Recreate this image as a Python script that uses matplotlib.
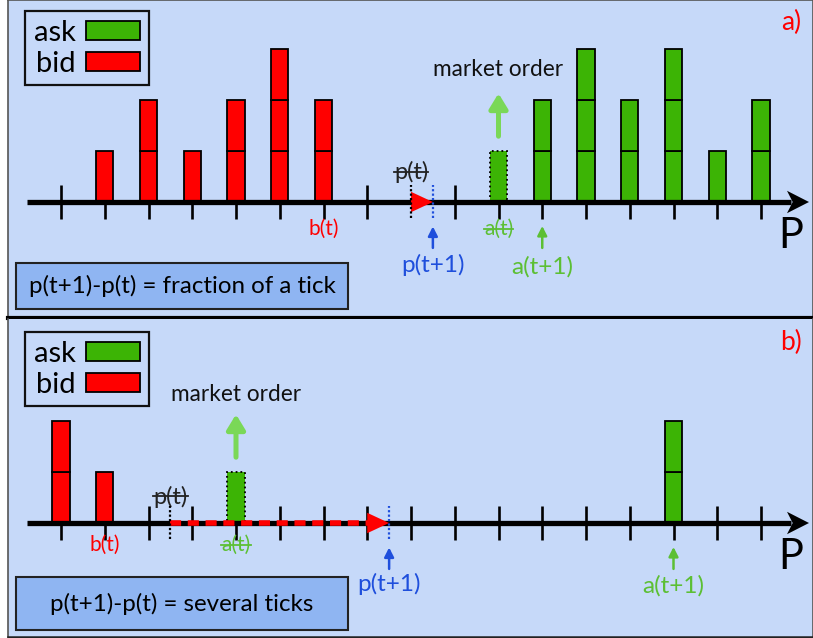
import matplotlib
matplotlib.use("Agg")
import matplotlib.pyplot as plt
from matplotlib.patches import Rectangle, Patch, Polygon

plt.rcParams['font.family'] = ['Lato', 'DejaVu Sans']

# ---------------- data ----------------
price_levels = list(range(17))

# panel a)
bid_levels_a = [1, 2, 3, 4, 5, 6]
bid_vol_a = [1, 2, 1, 2, 3, 2]
ask_levels_a = [11, 12, 13, 14, 15, 16]
ask_vol_a = [2, 3, 2, 3, 1, 2]
exec_level_a = 10
exec_vol_a = 1
hidden_ticks_a = [8]

# panel b)
bid_levels_b = [0, 1]
bid_vol_b = [2, 1]
ask_levels_b = [14]
ask_vol_b = [2]
exec_level_b = 4
exec_vol_b = 1
hidden_ticks_b = []

panel_labels = ["a)", "b)"]
box_texts = ["p(t+1)-p(t) = fraction of a tick", "p(t+1)-p(t) = several ticks"]

# ---------------- style ----------------
BG = '#c6d9f9'
BOX = '#8fb5f2'
RED = '#ff0000'
GREEN = '#3cb405'
LGREEN = '#5cbf34'
MGREEN = '#7ad857'
BLUE = '#1f4fdc'
BARW = 0.39

W, H = 813, 638
fig = plt.figure(figsize=(W / 100, H / 100), dpi=100)
fig.patch.set_facecolor('white')

XL = ((8 - 61) / 43.75, (813 - 61) / 43.75)

ax_a = fig.add_axes([8 / W, (H - 318) / H, 805 / W, 318 / H])
ax_b = fig.add_axes([8 / W, 1 / H, 805 / W, 318 / H])
ax_a.set_ylim(-(318 - 202) / 51, 202 / 51)
ax_b.set_ylim(-(637 - 523) / 51, (523 - 319) / 51)

strike_texts = []


def draw_panel(ax, bid_lv, bid_v, ask_lv, ask_v, ex_lv, ex_v, hidden, plabel, btext, top_ylabel, lab_y, p1_y, is_b):
    ax.set_xlim(*XL)
    ax.set_facecolor(BG)
    ax.set_xticks([])
    ax.set_yticks([])
    for s in ax.spines.values():
        s.set_color('#555555')
        s.set_linewidth(1.2)
    # ticks
    for k in price_levels:
        if k in hidden:
            continue
        ax.plot([k, k], [-0.333, 0.333], color='black', lw=1.9, zorder=1, solid_capstyle='butt')
    # bars
    for lv, v, col in [(bid_lv, bid_v, RED), (ask_lv, ask_v, GREEN)]:
        for x, n in zip(lv, v):
            for j in range(n):
                ax.bar(x, 1, bottom=j, width=BARW, color=col, edgecolor='black', lw=1.3, zorder=3)
    ax.add_patch(Rectangle((ex_lv - BARW / 2, 0), BARW, ex_v, facecolor=GREEN, edgecolor='black',
                           lw=1.3, linestyle=':', zorder=3))
    # axis line with arrow head
    tip = (809 - 61) / 43.75
    back = (787 - 61) / 43.75
    ax.plot([(27 - 61) / 43.75, back + 0.1], [0, 0], color='black', lw=3.8, zorder=4, solid_capstyle='butt')
    ax.add_patch(Polygon([(tip, 0), (back, 0.22), (back + 0.13, 0), (back, -0.22)], closed=True,
                         facecolor='black', edgecolor='none', zorder=4))
    ax.text((791 - 61) / 43.75, -0.66, 'P', fontsize=30, ha='center', va='center', zorder=5)
    ax.text((791 - 61) / 43.75, top_ylabel, plabel, fontsize=19, color=RED, ha='center', va='center')

    b_t = max(bid_lv)
    a_t = ex_lv
    a_t1 = min(ask_lv)
    p_t = (b_t + a_t) / 2
    p_t1 = (b_t + a_t1) / 2

    # price move
    head = 0.5
    if is_b:
        ax.plot([p_t, p_t1 - head + 0.05], [0, 0], color=RED, lw=4.0, linestyle=(0, (2.0, 1.2)),
                solid_capstyle='butt', dash_capstyle='butt', zorder=5)
    ax.add_patch(Polygon([(p_t1, 0), (p_t1 - head, 0.2), (p_t1 - head, -0.2)], closed=True,
                         facecolor=RED, edgecolor='none', zorder=6))
    ax.plot([p_t, p_t], [-0.32, 0.33], color='black', lw=1.6, linestyle=(0, (1, 1)), zorder=7)
    ax.plot([p_t1, p_t1], [-0.32, 0.33], color=BLUE, lw=1.6, linestyle=(0, (1, 1)), zorder=7)

    # labels
    ax.text(b_t, lab_y, 'b(t)', color=RED, fontsize=15, ha='center', va='center')
    t1 = ax.text(a_t, lab_y, 'a(t)', color=LGREEN, fontsize=15, ha='center', va='center')
    t2 = ax.text(p_t, 0.59 if not is_b else 0.52, 'p(t)', color='#222222', fontsize=17, ha='center', va='center')
    strike_texts.append((ax, t1, LGREEN))
    strike_texts.append((ax, t2, '#222222'))

    ax.text(p_t1, p1_y, 'p(t+1)', color=BLUE, fontsize=17.5, ha='center', va='center')
    ax.annotate('', xy=(p_t1, -0.48), xytext=(p_t1, -0.9),
                arrowprops=dict(arrowstyle='-|>,head_length=0.55,head_width=0.28', lw=1.8,
                                color=BLUE, shrinkA=0, shrinkB=0))
    ax.text(a_t1, p1_y - 0.03, 'a(t+1)', color=LGREEN, fontsize=17.5, ha='center', va='center')
    ax.annotate('', xy=(a_t1, -0.47), xytext=(a_t1, -0.9),
                arrowprops=dict(arrowstyle='-|>,head_length=0.55,head_width=0.28', lw=1.8,
                                color=LGREEN, shrinkA=0, shrinkB=0))

    # market order
    ax.text(a_t, 2.59 if not is_b else 2.51, 'market order', fontsize=16.3, color='#111111',
            ha='center', va='center')
    ax.annotate('', xy=(a_t, 2.13), xytext=(a_t, 1.29),
                arrowprops=dict(arrowstyle='-|>,head_length=0.9,head_width=0.55', lw=3.6,
                                color=MGREEN, shrinkA=0, shrinkB=0))

    # legend
    handles = [Patch(facecolor=GREEN, edgecolor='black', lw=1.3),
               Patch(facecolor=RED, edgecolor='black', lw=1.3)]
    yanc = 1 - 11 / 318 if not is_b else 1 - 13 / 318
    leg = ax.legend(handles, ['ask', 'bid'], loc='upper left', bbox_to_anchor=((25 - 8) / 805, yanc),
                    fontsize=21, markerfirst=False, handlelength=1.85, handleheight=0.6,
                    handletextpad=0.35, borderpad=0.3, labelspacing=0.17, borderaxespad=0,
                    fancybox=False, framealpha=1, facecolor=BG, edgecolor='#111111')
    leg.get_frame().set_linewidth(1.6)

    # text box
    if not is_b:
        y0, y1 = (202 - 309) / 51, (202 - 263) / 51
    else:
        y0, y1 = (523 - 630) / 51, (523 - 577) / 51
    x0, x1 = (16 - 61) / 43.75, (348 - 61) / 43.75
    ax.add_patch(Rectangle((x0, y0), x1 - x0, y1 - y0, facecolor=BOX, edgecolor='#222222', lw=1.5, zorder=5))
    ax.text((x0 + x1) / 2, (y0 + y1) / 2, btext, fontsize=17.4, ha='center', va='center', zorder=6)


draw_panel(ax_a, bid_levels_a, bid_vol_a, ask_levels_a, ask_vol_a, exec_level_a, exec_vol_a,
           hidden_ticks_a, panel_labels[0], box_texts[0], (202 - 22) / 51, -0.53, -1.24, False)
draw_panel(ax_b, bid_levels_b, bid_vol_b, ask_levels_b, ask_vol_b, exec_level_b, exec_vol_b,
           hidden_ticks_b, panel_labels[1], box_texts[1], (523 - 342) / 51, -0.43, -1.2, True)

ax_a.spines['bottom'].set_color('black')
ax_a.spines['bottom'].set_linewidth(3.0)
ax_b.spines['top'].set_visible(False)
ax_b.spines['bottom'].set_color('#222222')
ax_b.spines['bottom'].set_linewidth(1.8)

# strike-through lines
fig.canvas.draw()
r = fig.canvas.get_renderer()
for ax, t, c in strike_texts:
    bb = t.get_window_extent(r).transformed(ax.transData.inverted())
    ym = (bb.y0 + bb.y1) / 2
    ax.plot([bb.x0, bb.x1], [ym, ym], color=c, lw=1.3, zorder=8)

fig.savefig('out.png', dpi=100)
